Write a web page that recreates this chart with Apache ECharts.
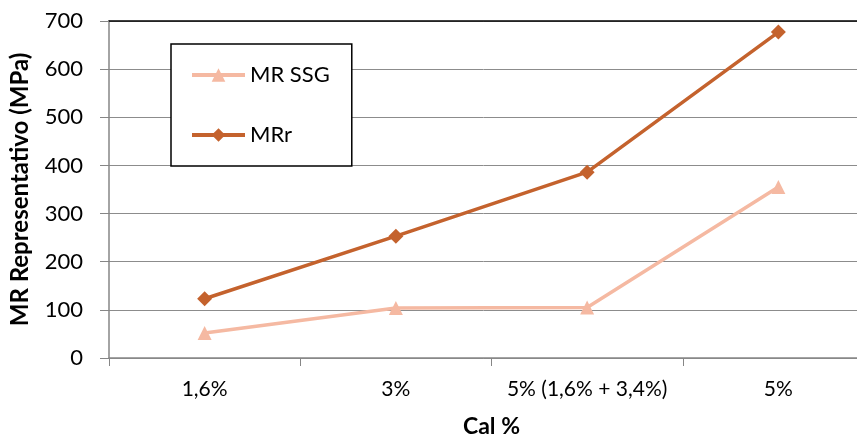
<!DOCTYPE html>
<html>
<head>
<meta charset="utf-8">
<script src="https://cdn.jsdelivr.net/npm/echarts@6/dist/echarts.min.js"></script>
<style>html,body{margin:0;padding:0;background:#fff;}#c{width:857px;height:438px;}</style>
</head>
<body>
<div id="c"></div>
<script>
const categories = ['1,6%', '3%', '5% (1,6% + 3,4%)', '5%'];
const mrSSG = [52, 104, 105, 355];
const mrR = [123, 253, 386, 677];
const yTicks = [0, 100, 200, 300, 400, 500, 600, 700];

const chart = echarts.init(document.getElementById('c'));
const font = 'Lato, "Noto Sans", sans-serif';
chart.setOption({
  animation: false,
  backgroundColor: '#fff',
  textStyle: { fontFamily: font },
  grid: { left: 109, top: 21, width: 765, height: 337, containLabel: false, outerBoundsMode: 'none' },
  legend: {
    left: 171, top: 44, orient: 'vertical',
    backgroundColor: '#fff', borderColor: '#000', borderWidth: 1.5,
    padding: [20, 22, 20, 19],
    itemWidth: 53, itemHeight: 17, itemGap: 38,
    lineStyle: { width: 4 },
    textStyle: { fontSize: 22, color: '#000', fontFamily: font },
    data: ['MR SSG', 'MRr']
  },
  xAxis: [{
    type: 'category', data: categories, boundaryGap: true,
    axisLine: { lineStyle: { color: '#868686', width: 1.5 } },
    axisTick: { show: true, length: 8, interval: 0, lineStyle: { color: '#868686' } },
    axisLabel: { fontSize: 21, color: '#000', margin: 21, interval: 0, fontFamily: font },
    name: 'Cal %', nameLocation: 'middle', nameGap: 57,
    nameTextStyle: { fontSize: 23, fontWeight: 'bold', color: '#000', fontFamily: font }
  }, {
    type: 'category', data: categories, position: 'top',
    axisLine: { lineStyle: { color: '#000', width: 1.5 } },
    axisTick: { show: false }, axisLabel: { show: false }
  }],
  yAxis: {
    type: 'value', min: yTicks[0], max: yTicks[yTicks.length - 1], interval: 100,
    axisLine: { show: true, lineStyle: { color: '#868686', width: 1.5 } },
    axisTick: { show: true, length: 9, lineStyle: { color: '#868686' } },
    axisLabel: { fontSize: 22, color: '#000', margin: 26, fontFamily: font },
    splitLine: { lineStyle: { color: '#8c8c8c', width: 1 } },
    name: 'MR Representativo (MPa)', nameLocation: 'middle', nameGap: 77,
    nameTextStyle: { fontSize: 24, fontWeight: 'bold', color: '#000', fontFamily: font }
  },
  series: [{
    name: 'MR SSG', type: 'line', data: mrSSG,
    symbol: 'triangle', symbolSize: 14,
    lineStyle: { color: '#F5B9A2', width: 3.5 },
    itemStyle: { color: '#F5B9A2' }
  }, {
    name: 'MRr', type: 'line', data: mrR,
    symbol: 'diamond', symbolSize: 15,
    lineStyle: { color: '#C4622D', width: 3.5 },
    itemStyle: { color: '#C4622D' }
  }]
});
</script>
</body>
</html>
